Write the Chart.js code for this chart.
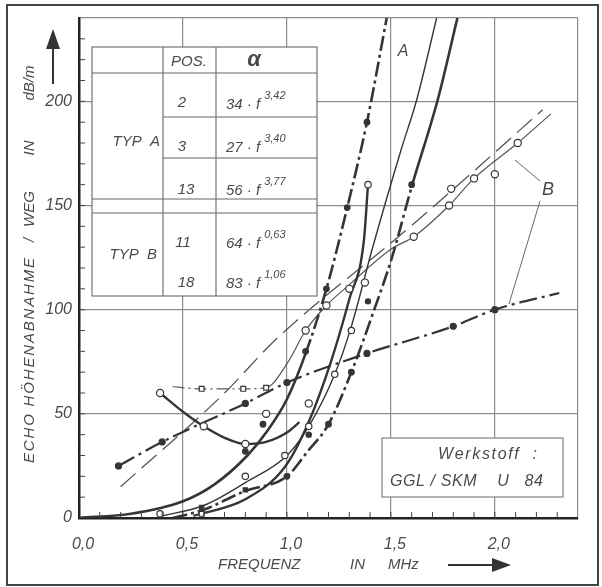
<!DOCTYPE html>
<html>
<head>
<meta charset="utf-8">
<script src="https://cdn.jsdelivr.net/npm/chart.js@4.4.1/dist/chart.umd.min.js"></script>
<style>
html, body { margin: 0; padding: 0; background: #fff; }
canvas { display: block; }
</style>
</head>
<body>
<canvas id="chart" width="602" height="587"></canvas>
<script>
// Typ A, Pos 13 (56 f^3.77) - fitted curve + measured dots
const pos13X = [0, 0.25, 0.5, 0.65, 0.81, 0.9, 1.0, 1.09, 1.19, 1.29, 1.385, 1.48];
const pos13Y = [0, 2, 8, 16, 30, 41, 57, 79, 110, 149, 190, 240];
const pos13DotX = [0.80, 0.885, 1.09, 1.19, 1.29, 1.385];
const pos13DotY = [32, 45, 80, 110, 149, 190];

// Typ A, Pos 2 (34 f^3.42) - thin line, open circles
const pos2X = [0.40, 0.6, 0.8, 1.0, 1.105, 1.23, 1.31, 1.41, 1.55, 1.625, 1.72];
const pos2Y = [1, 6, 17, 30, 44, 69, 92, 129, 177, 201, 240];
const pos2DotX = [0.39, 0.80, 0.99, 1.105, 1.23, 1.31];
const pos2DotY = [2, 20, 30, 44, 69, 90];

// Typ A, Pos 3 (27 f^3.40) - thick dash-dot, filled dots
const pos3X = [0.45, 0.6, 0.8, 1.0, 1.1, 1.2, 1.31, 1.42, 1.505, 1.60, 1.726, 1.82];
const pos3Y = [0, 4, 13, 20, 32, 45, 70, 100, 125, 159, 201, 240];
const pos3DotX = [1.0, 1.2, 1.31, 1.60];
const pos3DotY = [20, 45, 70, 160];
const pos3SqX = [0.59, 0.80];
const pos3SqY = [5, 13.5];

// thick solid curve with the dip (open circles) and the steep branch
const dipX = [0.39, 0.5, 0.6, 0.7, 0.8, 0.9, 1.0, 1.06];
const dipY = [60, 51, 44, 38.5, 35.5, 36.5, 41, 46];
const dipDotX = [0.39, 0.60, 0.80];
const dipDotY = [60, 44, 35.5];
const steepX = [0.55, 0.8, 0.99, 1.1, 1.21, 1.3, 1.37, 1.39];
const steepY = [1, 9, 24.5, 45, 74.5, 105, 133, 160];
const steepDotX = [1.39];
const steepDotY = [160];

// Typ B, Pos 11 (64 f^0.63) - dash-dot, filled dots
const pos11X = [0.19, 0.40, 0.80, 1.0, 1.385, 1.80, 2.0, 2.31];
const pos11Y = [25, 36.5, 55, 65, 79, 92, 100, 108];
const pos11DotX = [0.19, 0.40, 0.80, 1.0, 1.385, 1.80, 2.0];
const pos11DotY = [25, 36.5, 55, 65, 79, 92, 100];

// Typ B, Pos 18 (83 f^1.06) - long dashed fit + thin line with open marks
const fitBX = [0.2, 0.69, 0.95, 1.56, 1.95, 2.23];
const fitBY = [15, 59, 86, 137, 171, 196];
const pos18X = [0.45, 0.59, 0.79, 0.90, 1.0, 1.09, 1.19, 1.30, 1.50, 1.61, 1.78, 1.90, 2.11, 2.27];
const pos18Y = [63, 62, 62, 62.5, 74, 90, 102, 112, 129, 135, 150, 163, 180, 194];
const pos18SqX = [0.59, 0.79, 0.90];
const pos18SqY = [62, 62, 62.5];
const pos18DotX = [1.09, 1.19, 1.30, 1.61, 1.78, 1.90, 2.11];
const pos18DotY = [90, 102, 110, 135, 150, 163, 180];

// loose measured points
const openX = [0.90, 1.105, 1.79, 2.0, 1.375];
const openY = [50, 55, 158, 165, 113];
const filledX = [1.105, 1.39];
const filledY = [40, 104];
const openSqX = [0.59];
const openSqY = [2];

const xTickLabels = ['0,0', '0,5', '1,0', '1,5', '2,0'];
const yTickLabels = ['0', '50', '100', '150', '200'];

const INK = '#353535';
const GREY = '#555';
const DASHDOT = [15, 4, 3, 4];
const FONT = 'Liberation Sans, Arial, sans-serif';

function pts(xs, ys) {
    return xs.map((x, i) => ({ x: x, y: ys[i] }));
}

function curve(xs, ys, width, extra) {
    return Object.assign({
        data: pts(xs, ys),
        showLine: true,
        pointRadius: 0,
        borderColor: INK,
        borderWidth: width,
        cubicInterpolationMode: 'monotone',
        order: 2
    }, extra || {});
}

function marks(xs, ys, style, filled, r) {
    return {
        data: pts(xs, ys),
        showLine: false,
        pointStyle: style,
        pointRadius: r || 3.2,
        pointBackgroundColor: filled ? INK : '#fff',
        pointBorderColor: INK,
        pointBorderWidth: 1.2,
        order: 1
    };
}

const datasets = [
    curve(pos13X, pos13Y, 2.6, {
        segment: { borderDash: ctx => ctx.p0.parsed.x >= 1.05 ? DASHDOT : undefined }
    }),
    curve(pos2X, pos2Y, 1.4),
    curve(pos3X, pos3Y, 2.6, {
        segment: { borderDash: ctx => ctx.p0.parsed.x < 1.6 ? DASHDOT : undefined }
    }),
    curve(dipX, dipY, 2.4),
    curve(steepX, steepY, 2.4),
    curve(pos11X, pos11Y, 2.2, { borderDash: [18, 5, 3, 5] }),
    curve(fitBX, fitBY, 1.3, { borderDash: [20, 8], borderColor: GREY }),
    curve(pos18X, pos18Y, 1.2, {
        borderColor: GREY,
        segment: { borderDash: ctx => ctx.p0.parsed.x < 0.9 ? [12, 4, 2, 4] : undefined }
    }),
    marks(pos13DotX, pos13DotY, 'circle', true, 2.8),
    marks(pos2DotX, pos2DotY, 'circle', false),
    marks(pos3DotX, pos3DotY, 'circle', true, 2.8),
    marks(pos3SqX, pos3SqY, 'rect', true, 3),
    marks(dipDotX, dipDotY, 'circle', false, 3.6),
    marks(steepDotX, steepDotY, 'circle', false, 3.2),
    marks(pos11DotX, pos11DotY, 'circle', true, 3),
    marks(pos18SqX, pos18SqY, 'rect', false, 3.4),
    marks(pos18DotX, pos18DotY, 'circle', false, 3.6),
    marks(openX, openY, 'circle', false, 3.6),
    marks(filledX, filledY, 'circle', true, 2.6),
    marks(openSqX, openSqY, 'rect', false, 3.4)
];

// spread characters of a string evenly between x0 and x1
function spread(ctx, text, x0, x1, y) {
    const chars = text.split('');
    const widths = chars.map(c => ctx.measureText(c).width);
    const total = widths.reduce((a, b) => a + b, 0);
    const gap = chars.length > 1 ? (x1 - x0 - total) / (chars.length - 1) : 0;
    let x = x0;
    ctx.textAlign = 'left';
    chars.forEach((c, i) => {
        ctx.fillText(c, x, y);
        x += widths[i] + gap;
    });
}

function formula(ctx, base, sup, x, y) {
    ctx.font = 'italic 15px ' + FONT;
    ctx.textAlign = 'left';
    ctx.fillText(base, x, y);
    const w = ctx.measureText(base).width;
    ctx.font = 'italic 11px ' + FONT;
    ctx.fillText(sup, x + w + 4, y - 9);
}

const tablePlugin = {
    id: 'table',
    beforeDatasetsDraw(chart) {
        const ctx = chart.ctx;
        ctx.save();
        ctx.fillStyle = '#fff';
        ctx.fillRect(92, 47, 225, 249);
        ctx.strokeStyle = '#666';
        ctx.lineWidth = 1.1;
        ctx.strokeRect(92, 47, 225, 249);
        ctx.beginPath();
        ctx.moveTo(163, 47); ctx.lineTo(163, 296);
        ctx.moveTo(216, 47); ctx.lineTo(216, 296);
        ctx.moveTo(92, 73); ctx.lineTo(317, 73);
        ctx.moveTo(163, 117); ctx.lineTo(317, 117);
        ctx.moveTo(163, 158); ctx.lineTo(317, 158);
        ctx.moveTo(92, 199); ctx.lineTo(317, 199);
        ctx.moveTo(92, 213); ctx.lineTo(317, 213);
        ctx.stroke();

        ctx.fillStyle = '#4a4a4a';
        ctx.textBaseline = 'middle';
        ctx.font = 'italic 15px ' + FONT;
        ctx.textAlign = 'center';
        ctx.fillText('POS.', 189, 62);
        ctx.fillText('2', 182, 103);
        ctx.fillText('3', 182, 147);
        ctx.fillText('13', 186, 190);
        ctx.fillText('11', 183, 243);
        ctx.fillText('18', 186, 283);
        ctx.textAlign = 'right';
        ctx.fillText('TYP  A', 160, 142);
        ctx.fillText('TYP  B', 157, 255);
        ctx.textAlign = 'center';
        ctx.font = 'italic bold 22px ' + FONT;
        ctx.fillText('α', 254, 60);

        formula(ctx, '34 · f', '3,42', 226, 105);
        formula(ctx, '27 · f', '3,40', 226, 148);
        formula(ctx, '56 · f', '3,77', 226, 191);
        formula(ctx, '64 · f', '0,63', 226, 244);
        formula(ctx, '83 · f', '1,06', 226, 284);
        ctx.restore();
    },
    afterDraw(chart) {
        const ctx = chart.ctx;
        const xs = chart.scales.x;
        const ys = chart.scales.y;
        const area = chart.chartArea;
        ctx.save();

        // minor ticks inside the axes
        ctx.strokeStyle = '#444';
        ctx.lineWidth = 1;
        ctx.beginPath();
        for (let i = 1; i < 24; i++) {
            const px = xs.getPixelForValue(i / 10);
            ctx.moveTo(px, area.bottom);
            ctx.lineTo(px, area.bottom - 6);
        }
        for (let i = 1; i < 24; i++) {
            const py = ys.getPixelForValue(i * 10);
            ctx.moveTo(area.left, py);
            ctx.lineTo(area.left + 6, py);
        }
        ctx.stroke();

        // Werkstoff box
        ctx.fillStyle = '#fff';
        ctx.fillRect(382, 438, 181, 59);
        ctx.strokeStyle = '#777';
        ctx.lineWidth = 1.1;
        ctx.strokeRect(382, 438, 181, 59);
        ctx.fillStyle = '#4a4a4a';
        ctx.textBaseline = 'middle';
        ctx.font = 'italic 16px ' + FONT;
        spread(ctx, 'Werkstoff  :', 438, 537, 455);
        spread(ctx, 'GGL / SKM    U   84', 390, 543, 482);

        // curve labels
        ctx.font = 'italic 16px ' + FONT;
        ctx.textAlign = 'center';
        ctx.fillText('A', 403, 52);
        ctx.font = 'italic 18px ' + FONT;
        ctx.fillText('B', 548, 190);
        ctx.strokeStyle = '#666';
        ctx.lineWidth = 1;
        ctx.beginPath();
        ctx.moveTo(540, 181); ctx.lineTo(515, 160);
        ctx.moveTo(540, 201); ctx.lineTo(509, 304);
        ctx.stroke();

        // axis titles
        ctx.font = 'italic 15px ' + FONT;
        ctx.save();
        ctx.translate(30, 0);
        ctx.rotate(-Math.PI / 2);
        spread(ctx, 'ECHO HÖHENABNAHME', -463, -258, 0);
        ctx.textAlign = 'center';
        ctx.fillText('/', -240, 0);
        ctx.fillText('WEG', -209, 0);
        ctx.fillText('IN', -148, 0);
        ctx.fillText('dB/m', -83, 0);
        ctx.restore();

        ctx.textAlign = 'left';
        ctx.fillText('FREQUENZ', 218, 565);
        ctx.fillText('IN', 350, 565);
        ctx.fillText('MHz', 388, 565);

        // arrows
        ctx.strokeStyle = '#333';
        ctx.fillStyle = '#333';
        ctx.lineWidth = 2;
        ctx.beginPath();
        ctx.moveTo(448, 565); ctx.lineTo(495, 565);
        ctx.moveTo(53, 84); ctx.lineTo(53, 45);
        ctx.stroke();
        ctx.beginPath();
        ctx.moveTo(511, 565); ctx.lineTo(492, 558); ctx.lineTo(492, 572); ctx.closePath();
        ctx.moveTo(53, 29); ctx.lineTo(46, 49); ctx.lineTo(60, 49); ctx.closePath();
        ctx.fill();

        // outer frame
        ctx.strokeStyle = '#444';
        ctx.lineWidth = 2;
        ctx.strokeRect(7, 5, 591, 580);
        ctx.restore();
    }
};

const ctx = document.getElementById('chart').getContext('2d');
new Chart(ctx, {
    type: 'scatter',
    data: { datasets: datasets },
    options: {
        responsive: false,
        animation: false,
        layout: { padding: { top: 18, right: 24, left: 0, bottom: 0 } },
        plugins: { legend: { display: false }, tooltip: { enabled: false } },
        scales: {
            x: {
                type: 'linear',
                min: 0,
                max: 2.4,
                afterFit: scale => { scale.height = 69; },
                ticks: {
                    stepSize: 0.5,
                    autoSkip: false,
                    maxRotation: 0,
                    padding: 17,
                    labelOffset: 4,
                    color: '#4a4a4a',
                    font: { family: FONT, size: 16, style: 'italic' },
                    callback: v => {
                        const i = Math.round(v / 0.5);
                        return Math.abs(v - i * 0.5) < 1e-6 && xTickLabels[i] ? xTickLabels[i] : '';
                    }
                },
                grid: { color: '#8c8c8c', lineWidth: 1.2, drawTicks: false },
                border: { color: '#222', width: 2.5 }
            },
            y: {
                type: 'linear',
                min: 0,
                max: 240,
                afterFit: scale => { scale.width = 79; },
                ticks: {
                    stepSize: 50,
                    padding: 7,
                    color: '#4a4a4a',
                    font: { family: FONT, size: 16, style: 'italic' },
                    callback: v => (v % 50 === 0 && yTickLabels[v / 50]) ? yTickLabels[v / 50] : ''
                },
                grid: { color: '#8c8c8c', lineWidth: 1.2, drawTicks: false },
                border: { color: '#222', width: 2.5 }
            }
        }
    },
    plugins: [tablePlugin]
});
</script>
</body>
</html>
